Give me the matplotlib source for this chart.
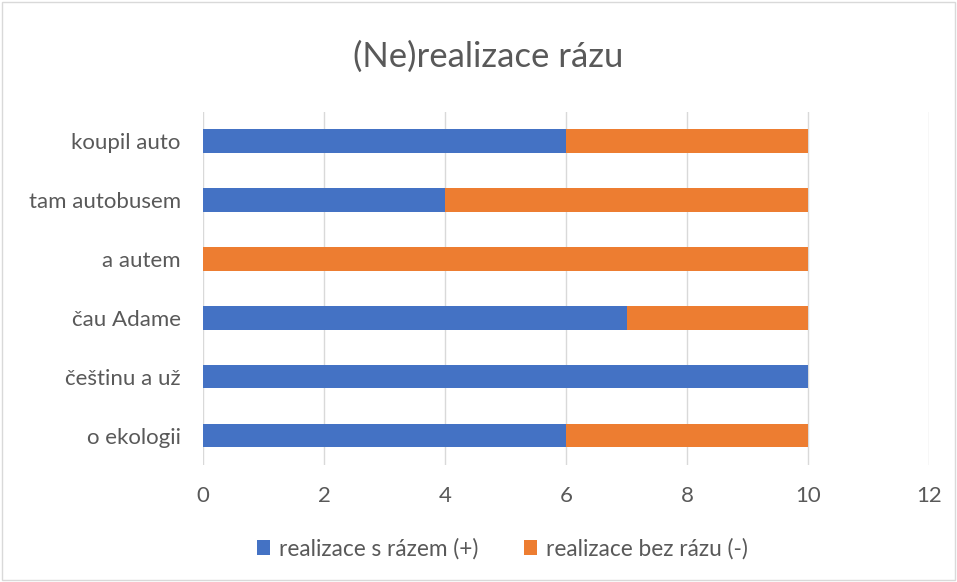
import matplotlib.pyplot as plt
from matplotlib.patches import Rectangle

# data, bottom to top as drawn
categories = ["o ekologii", "češtinu a už", "čau Adame", "a autem", "tam autobusem", "koupil auto"]
with_raz = [6, 10, 7, 0, 4, 6]
without_raz = [4, 0, 3, 10, 6, 4]
series_names = ["realizace s rázem (+)", "realizace bez rázu (-)"]

blue = "#4472C4"
orange = "#ED7D31"
text_col = "#595959"

plt.rcParams["font.family"] = ["Lato", "DejaVu Sans"]

fig = plt.figure(figsize=(9.57, 5.82), dpi=100)
ax = fig.add_axes([0.212, 0.201, 0.759, 0.607])

y = range(len(categories))
ax.barh(y, with_raz, height=0.4, color=blue, label=series_names[0], zorder=3)
ax.barh(y, without_raz, left=with_raz, height=0.4, color=orange, label=series_names[1], zorder=3)

ax.set_xlim(0, 12)
ax.set_ylim(-0.5, len(categories) - 0.5)
ax.set_xticks(range(0, 13, 2))
ax.set_yticks(list(y))
ax.set_yticklabels(categories)
ax.grid(axis="x", color="#D9D9D9", linewidth=1, zorder=0)
for s in ax.spines.values():
    s.set_visible(False)
ax.tick_params(length=0, colors=text_col, labelsize=16)
ax.tick_params(axis="x", pad=15)
ax.tick_params(axis="y", pad=16)

fig.text(0.51, 0.902, "(Ne)realizace rázu", ha="center", va="center",
         fontsize=25, color=text_col)

fig.legend(loc="center", bbox_to_anchor=(0.525, 0.057), ncol=2, frameon=False,
           fontsize=16.3, labelcolor=text_col, handlelength=0.6, handleheight=0.6,
           columnspacing=2.0, handletextpad=0.4)

# chart area border
fig.patches.append(Rectangle((0.002, 0.003), 0.996, 0.994, transform=fig.transFigure,
                             fill=False, edgecolor="#D9D9D9", linewidth=1))

fig.savefig("out.png", dpi=100)
